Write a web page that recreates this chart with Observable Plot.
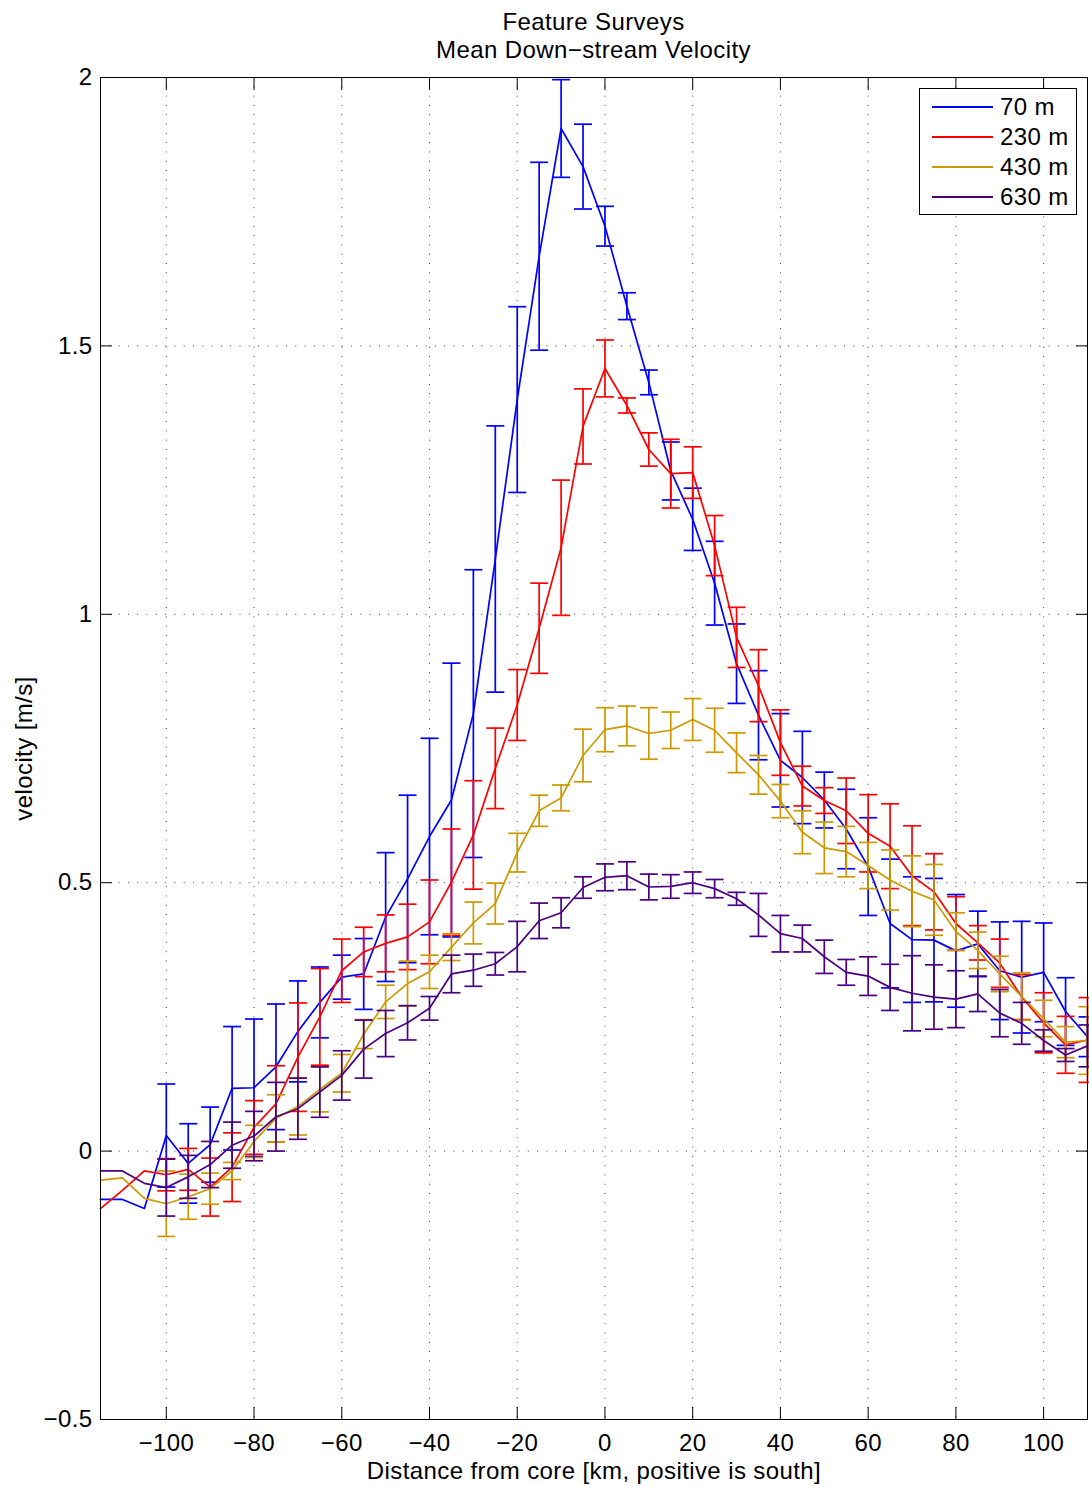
<!DOCTYPE html>
<html><head><meta charset="utf-8">
<script src="https://cdn.jsdelivr.net/npm/d3@7"></script>
<script src="https://cdn.jsdelivr.net/npm/@observablehq/plot@0.6"></script>
<style>
body{margin:0;background:#fff;}
#wrap{position:relative;width:1089px;height:1486px;font-family:"Liberation Sans",Arial,sans-serif;color:#000;}
.ttl{position:absolute;left:100px;width:987px;text-align:center;font-size:24px;line-height:24px;letter-spacing:0.4px;white-space:nowrap;}
#legend{position:absolute;left:919px;top:88px;width:158px;height:127px;border:1px solid #000;background:#fff;box-sizing:border-box;}
.lrow{position:absolute;left:0;height:30px;width:157px;}
.lline{position:absolute;left:12px;width:61px;top:14px;height:0;border-top:2px solid;}
.ltxt{position:absolute;left:80px;top:1px;font-size:24px;line-height:27px;letter-spacing:0.4px;white-space:nowrap;}
</style></head>
<body><div id="wrap"></div>
<script>
const km = [-115,-110,-105,-100,-95,-90,-85,-80,-75,-70,-65,-60,-55,-50,-45,-40,-35,-30,-25,-20,-15,-10,-5,0,5,10,15,20,25,30,35,40,45,50,55,60,65,70,75,80,85,90,95,100,105,110];

const v70  = [-0.090,-0.090,-0.107,0.029,-0.023,0.012,0.117,0.118,0.157,0.223,0.277,0.324,0.330,0.436,0.507,0.586,0.654,0.815,1.103,1.400,1.667,1.905,1.834,1.723,1.574,1.432,1.267,1.177,1.058,0.908,0.812,0.728,0.696,0.654,0.600,0.530,0.424,0.394,0.393,0.373,0.386,0.336,0.324,0.333,0.260,0.213];
const e70  = [null,null,null,0.096,0.074,0.070,0.115,0.128,0.117,0.094,0.066,0.041,0.066,0.120,0.156,0.183,0.255,0.268,0.248,0.173,0.175,0.091,0.079,0.037,0.025,0.023,0.054,0.058,0.078,0.074,0.083,0.087,0.086,0.052,0.074,0.091,0.120,0.117,0.115,0.105,0.061,0.091,0.104,0.092,0.063,0.037];

const v230 = [-0.107,-0.073,-0.037,-0.044,-0.034,-0.067,-0.030,0.044,0.088,0.175,0.250,0.336,0.371,0.387,0.399,0.427,0.501,0.589,0.713,0.831,0.974,1.124,1.350,1.458,1.389,1.307,1.262,1.264,1.128,0.957,0.867,0.761,0.680,0.653,0.634,0.592,0.568,0.513,0.483,0.424,0.388,0.350,0.287,0.239,0.198,0.207];
const e230 = [null,null,null,0.030,0.039,0.054,0.064,0.050,0.071,0.101,0.090,0.059,0.046,0.053,0.061,0.078,0.099,0.101,0.075,0.066,0.084,0.126,0.070,0.053,0.014,0.031,0.064,0.048,0.056,0.056,0.067,0.061,0.037,0.024,0.061,0.072,0.079,0.093,0.071,0.050,0.032,0.045,0.042,0.056,0.053,0.079];

const v430 = [-0.054,-0.050,-0.088,-0.098,-0.085,-0.070,-0.037,0.018,0.061,0.083,0.115,0.145,0.218,0.278,0.312,0.334,0.380,0.425,0.461,0.556,0.634,0.658,0.737,0.785,0.792,0.778,0.784,0.804,0.784,0.742,0.701,0.652,0.594,0.565,0.558,0.532,0.505,0.484,0.468,0.409,0.374,0.330,0.288,0.247,0.203,0.206];
const e430 = [null,null,null,0.061,0.042,0.029,0.016,0.030,0.044,0.053,0.042,0.035,0.027,0.031,0.042,0.031,0.025,0.039,0.038,0.036,0.029,0.024,0.049,0.041,0.037,0.048,0.034,0.039,0.041,0.037,0.036,0.031,0.040,0.048,0.047,0.043,0.056,0.066,0.066,0.035,0.034,0.033,0.044,0.034,0.029,0.063];

const v630 = [-0.037,-0.037,-0.060,-0.068,-0.048,-0.025,0.011,0.028,0.064,0.079,0.110,0.141,0.190,0.219,0.239,0.266,0.330,0.337,0.349,0.381,0.429,0.444,0.491,0.510,0.513,0.492,0.493,0.500,0.489,0.470,0.440,0.405,0.396,0.362,0.333,0.326,0.305,0.294,0.287,0.283,0.293,0.257,0.238,0.206,0.179,0.196];
const e630 = [null,null,null,0.053,0.040,0.043,0.043,0.046,0.064,0.057,0.047,0.046,0.054,0.043,0.032,0.022,0.035,0.030,0.021,0.047,0.033,0.028,0.020,0.025,0.026,0.024,0.022,0.020,0.017,0.012,0.040,0.034,0.025,0.031,0.024,0.036,0.043,0.070,0.060,0.053,0.033,0.044,0.039,0.020,0.012,0.039];

const seriesNames = ["70 m","230 m","430 m","630 m"];
const seriesColors = ["#0000ff","#ff0000","#cc9900","#4b0082"];
const seriesVals = [v70, v230, v430, v630];
const seriesErrs = [e70, e230, e430, e630];

const xTicks = [-100,-80,-60,-40,-20,0,20,40,60,80,100];
const yTicks = [-0.5,0,0.5,1,1.5,2];

const titleLines = ["Feature Surveys","Mean Down\u2212stream Velocity"];
const xLabel = "Distance from core [km, positive is south]";
const yLabel = "velocity [m/s]";

const fmt = d => (d < 0 ? "\u2212" : "") + String(Math.abs(d));
const capSym = { draw(ctx) { ctx.moveTo(-9, 0); ctx.lineTo(9, 0); } };

const marks = [];
const gridStyle = {stroke: "#000", strokeOpacity: 0.75, strokeDasharray: "1,8.3", strokeWidth: 1};
marks.push(Plot.gridX(xTicks, gridStyle));
marks.push(Plot.gridY(yTicks, gridStyle));

seriesNames.forEach((name, i) => {
  const rows = km.map((k, j) => ({km: k, v: seriesVals[i][j], e: seriesErrs[i][j]}));
  const eb = rows.filter(r => r.e != null);
  const c = seriesColors[i];
  marks.push(Plot.line(rows, {x: "km", y: "v", stroke: c, strokeWidth: 1.7}));
  marks.push(Plot.ruleX(eb, {x: "km", y1: d => d.v - d.e, y2: d => d.v + d.e, stroke: c, strokeWidth: 1.7}));
  marks.push(Plot.dot(eb, {x: "km", y: d => d.v + d.e, symbol: capSym, r: 9, stroke: c, fill: "none", strokeWidth: 1.7}));
  marks.push(Plot.dot(eb, {x: "km", y: d => d.v - d.e, symbol: capSym, r: 9, stroke: c, fill: "none", strokeWidth: 1.7}));
});

marks.push(Plot.frame({stroke: "#000", strokeWidth: 1}));
marks.push(Plot.axisX(xTicks, {anchor: "bottom", tickSize: -12, tickPadding: 26, tickFormat: fmt, fontSize: 24,
  label: xLabel, labelAnchor: "center", labelArrow: "none", labelOffset: 59}));
marks.push(Plot.axisX(xTicks, {anchor: "top", tickSize: -12, tickFormat: () => "", label: null}));
marks.push(Plot.axisY(yTicks, {anchor: "left", tickSize: -12, tickPadding: 20, tickFormat: fmt, fontSize: 24,
  label: yLabel, labelAnchor: "center", labelArrow: "none", labelOffset: 86}));
marks.push(Plot.axisY(yTicks, {anchor: "right", tickSize: -12, tickFormat: () => "", label: null}));

const chart = Plot.plot({
  width: 1089, height: 1486,
  marginLeft: 100, marginRight: 2, marginTop: 77, marginBottom: 67,
  style: {fontFamily: "'Liberation Sans', Arial, sans-serif", fontSize: "24px", letterSpacing: "0.4px", background: "#fff", color: "#000", overflow: "visible"},
  x: {domain: [-115, 110], nice: false},
  y: {domain: [-0.5, 2], nice: false},
  marks
});

const wrap = document.getElementById("wrap");
wrap.appendChild(chart);

titleLines.forEach((t, i) => {
  const d = document.createElement("div");
  d.className = "ttl";
  d.style.top = (10 + i * 28.3) + "px";
  d.textContent = t;
  wrap.appendChild(d);
});

const leg = document.createElement("div");
leg.id = "legend";
seriesNames.forEach((name, i) => {
  const r = document.createElement("div");
  r.className = "lrow";
  r.style.top = (3 + i * 30) + "px";
  const ln = document.createElement("div");
  ln.className = "lline";
  ln.style.borderTopColor = seriesColors[i];
  const tx = document.createElement("div");
  tx.className = "ltxt";
  tx.textContent = name;
  r.appendChild(ln); r.appendChild(tx);
  leg.appendChild(r);
});
wrap.appendChild(leg);
</script>
</body></html>
